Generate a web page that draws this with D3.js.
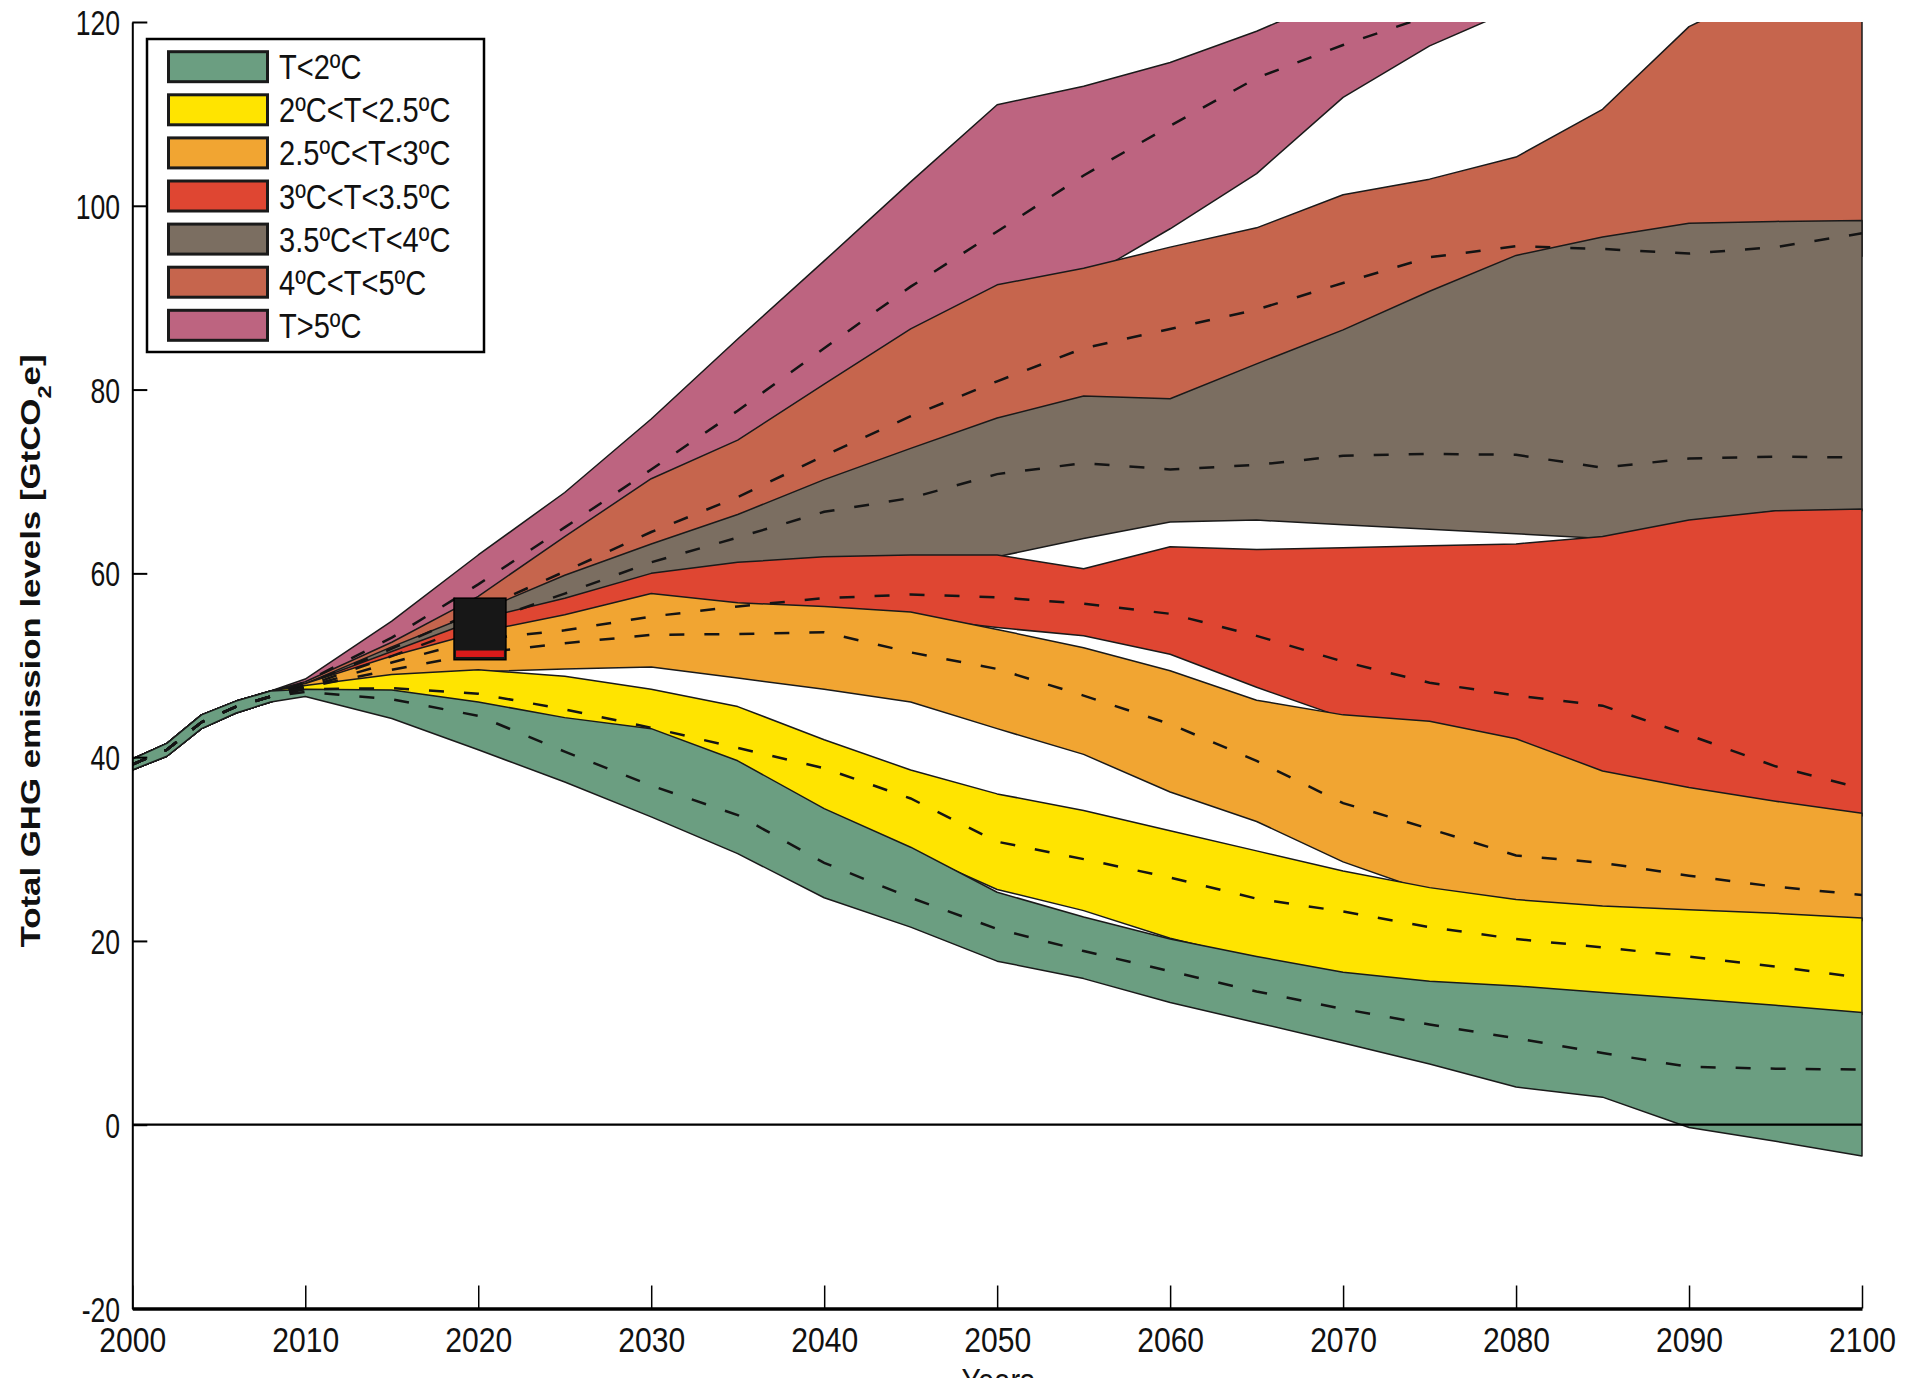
<!DOCTYPE html>
<html>
<head>
<meta charset="utf-8">
<title>Total GHG emission levels</title>
<script src="https://cdn.jsdelivr.net/npm/d3@7"></script>
<style>
  body { margin: 0; background: #ffffff; }
</style>
</head>
<body>
<div id="chart"></div>
<script>
// historical trunk, before the pathways fan out
const trunkYears = [2000, 2002, 2004, 2006, 2008];
const trunkUpper = [39.8, 41.5, 44.6, 46.1, 47.2];
const trunkMedian = [39.2, 40.8, 43.8, 45.5, 46.6];
const trunkLower = [38.6, 40.1, 43.1, 44.8, 46.0];

const years = [2010, 2015, 2020, 2025, 2030, 2035, 2040, 2045, 2050, 2055,
  2060, 2065, 2070, 2075, 2080, 2085, 2090, 2095, 2100];

// T<2ºC
const greenUpper = [47.4, 47.3, 46.0, 44.3, 43.1, 39.6, 34.4, 30.2, 25.3, 22.6, 20.2, 18.3, 16.6, 15.6, 15.1, 14.4, 13.7, 13.0, 12.2];
const greenMedian = [47.1, 46.3, 44.5, 40.6, 36.9, 33.7, 28.5, 24.7, 21.3, 18.9, 16.7, 14.5, 12.6, 10.9, 9.4, 7.8, 6.3, 6.1, 6.0];
const greenLower = [46.6, 44.2, 40.8, 37.3, 33.5, 29.5, 24.7, 21.5, 17.8, 15.9, 13.3, 11.1, 8.9, 6.6, 4.1, 3.0, -0.3, -1.8, -3.4];

// 2ºC<T<2.5ºC
const yellowUpper = [47.8, 49.0, 49.5, 48.8, 47.4, 45.5, 41.9, 38.6, 36.0, 34.2, 32.0, 29.8, 27.6, 25.8, 24.5, 23.8, 23.4, 23.0, 22.5];
const yellowMedian = [47.4, 47.5, 46.9, 45.2, 43.2, 41.0, 38.8, 35.5, 30.8, 28.9, 26.9, 24.6, 23.2, 21.5, 20.2, 19.3, 18.3, 17.2, 16.0];
const yellowLower = [47.0, 46.6, 45.4, 43.8, 42.6, 39.2, 34.0, 29.8, 25.6, 23.3, 20.3, 18.0, 16.3, 15.3, 14.8, 14.1, 13.4, 12.7, 12.0];

// 2.5ºC<T<3ºC
const orangeUpper = [48.0, 51.0, 53.6, 55.5, 57.8, 56.8, 56.4, 55.8, 53.9, 51.9, 49.4, 46.2, 44.6, 43.9, 42.0, 38.5, 36.7, 35.2, 33.9];
const orangeMedian = [47.6, 49.5, 51.3, 52.4, 53.3, 53.4, 53.6, 51.4, 49.6, 46.7, 43.6, 39.6, 35.0, 32.2, 29.3, 28.5, 27.1, 25.9, 25.0];
const orangeLower = [47.3, 48.6, 49.3, 49.6, 49.8, 48.6, 47.4, 46.0, 43.1, 40.3, 36.2, 33.0, 28.6, 25.3, 24.0, 23.4, 23.0, 22.6, 22.2];

// 3ºC<T<3.5ºC
const redUpper = [48.0, 51.5, 55.0, 57.3, 60.0, 61.2, 61.8, 62.0, 62.0, 60.5, 62.9, 62.6, 62.8, 63.0, 63.2, 64.0, 65.8, 66.8, 67.0];
const redMedian = [47.6, 50.3, 52.8, 53.8, 55.3, 56.4, 57.3, 57.7, 57.4, 56.7, 55.6, 53.2, 50.4, 48.1, 46.7, 45.6, 42.4, 39.0, 36.6];
const redLower = [47.6, 50.0, 52.5, 54.0, 55.0, 55.8, 55.6, 55.2, 54.1, 53.2, 51.2, 47.6, 44.3, 43.6, 41.7, 38.2, 36.4, 34.9, 33.6];

// 3.5ºC<T<4ºC
const greyUpper = [48.0, 52.0, 55.8, 59.8, 63.2, 66.4, 70.2, 73.6, 76.9, 79.3, 79.0, 82.8, 86.5, 90.7, 94.6, 96.6, 98.1, 98.3, 98.4];
const greyMedian = [47.7, 51.0, 54.5, 57.8, 61.2, 63.9, 66.7, 68.2, 70.8, 72.0, 71.3, 71.8, 72.8, 73.0, 72.9, 71.5, 72.5, 72.7, 72.6];
const greyLower = [47.6, 50.5, 53.5, 56.5, 59.5, 61.0, 61.6, 61.8, 61.8, 63.8, 65.6, 65.8, 65.3, 64.8, 64.3, 63.8, 65.6, 66.8, 66.8];

// 4ºC<T<5ºC (top runs off the chart after 2090)
const brickUpper = [48.2, 52.5, 57.5, 64.0, 70.3, 74.5, 80.6, 86.6, 91.4, 93.2, 95.5, 97.6, 101.2, 102.9, 105.3, 110.5, 119.5, 124.0, 127.0];
const brickMedian = [47.9, 51.8, 56.0, 60.2, 64.5, 68.3, 72.8, 77.1, 80.9, 84.5, 86.6, 88.7, 91.6, 94.4, 95.6, 95.3, 94.8, 95.5, 97.0];
const brickLower = [47.8, 51.0, 54.5, 58.0, 61.0, 64.0, 67.5, 70.5, 73.5, 75.5, 76.0, 79.5, 83.0, 87.5, 91.0, 93.0, 94.0, 94.0, 94.5];

// T>5ºC (leaves the chart around 2080)
const pinkUpper = [48.5, 54.8, 62.0, 68.8, 76.8, 85.5, 94.0, 102.6, 111.0, 113.0, 115.6, 119.0, 123.0, 127.0, 131.0, null, null, null, null];
const pinkMedian = [48.2, 53.0, 58.8, 65.0, 71.3, 77.7, 84.5, 91.2, 97.2, 103.3, 108.7, 113.9, 117.5, 120.7, 124.0, null, null, null, null];
const pinkLower = [48.0, 52.0, 56.5, 62.0, 68.0, 72.5, 78.0, 84.0, 89.0, 92.0, 97.5, 103.5, 111.8, 117.4, 121.5, null, null, null, null];

const bandNames = [`T<2ºC`, `2ºC<T<2.5ºC`, `2.5ºC<T<3ºC`, `3ºC<T<3.5ºC`, `3.5ºC<T<4ºC`, `4ºC<T<5ºC`, `T>5ºC`];

// 2020 marker (black box with red strip)
const markerYears = [2018.6, 2021.6];
const markerRange = [50.6, 57.3];
const markerRed = [50.9, 51.6];

const xTicks = [2000, 2010, 2020, 2030, 2040, 2050, 2060, 2070, 2080, 2090, 2100];
const yTicks = [-20, 0, 20, 40, 60, 80, 100, 120];

const options = {
  width: 1921,
  height: 1378,
  plot: { left: 132.3, right: 1862, top: 22, bottom: 1308.5 },
  font: `"Liberation Sans", Arial, Helvetica, sans-serif`,
  colors: [`#6b9e81`, `#ffe400`, `#f1a532`, `#df4632`, `#7b6e61`, `#c6654d`, `#bd6480`],
  outline: `#1a1a1a`,
  dash: `15,20`,
  legend: { x: 147, y: 39, w: 337, h: 313, rowY: 66.7, rowStep: 43.1 },
};

function renderChart(domId) {
  const id = domId.replace(/^#/i, ``);
  const { width, height, plot } = options;

  const bands = [
    { upper: greenUpper, median: greenMedian, lower: greenLower },
    { upper: yellowUpper, median: yellowMedian, lower: yellowLower },
    { upper: orangeUpper, median: orangeMedian, lower: orangeLower },
    { upper: redUpper, median: redMedian, lower: redLower },
    { upper: greyUpper, median: greyMedian, lower: greyLower },
    { upper: brickUpper, median: brickMedian, lower: brickLower },
    { upper: pinkUpper, median: pinkMedian, lower: pinkLower },
  ].map((b, i) => {
    const points = trunkYears.map((yr, j) => ({
      year: yr, upper: trunkUpper[j], median: trunkMedian[j], lower: trunkLower[j],
    }));
    years.forEach((yr, j) => points.push({
      year: yr, upper: b.upper[j], median: b.median[j], lower: b.lower[j],
    }));
    return { name: bandNames[i], color: options.colors[i], points };
  });

  const x = d3.scaleLinear().domain([2000, 2100]).range([plot.left, plot.right]);
  const y = d3.scaleLinear().domain([-20, 120]).range([plot.bottom, plot.top]);

  d3.select(`#${id}`).selectAll(`*`).remove();

  const svg = d3
    .select(`#${id}`)
    .append(`svg`)
    .attr(`width`, width)
    .attr(`height`, height)
    .style(`font-family`, options.font);

  svg.append(`defs`)
    .append(`clipPath`)
    .attr(`id`, `plot-clip`)
    .append(`rect`)
    .attr(`x`, plot.left)
    .attr(`y`, plot.top)
    .attr(`width`, plot.right - plot.left + 2)
    .attr(`height`, plot.bottom - plot.top);

  const area = d3.area()
    .defined((d) => d.upper != null)
    .x((d) => x(d.year))
    .y0((d) => y(d.lower))
    .y1((d) => y(d.upper));

  const line = d3.line()
    .defined((d) => d.median != null)
    .x((d) => x(d.year))
    .y((d) => y(d.median));

  const plotG = svg.append(`g`).attr(`clip-path`, `url(#plot-clip)`);

  // hottest band at the bottom, coolest on top
  plotG.selectAll(`path.band`)
    .data(bands.slice().reverse())
    .enter()
    .append(`path`)
    .attr(`class`, `band`)
    .attr(`d`, (d) => area(d.points))
    .attr(`fill`, (d) => d.color)
    .attr(`stroke`, options.outline)
    .attr(`stroke-width`, 1.5)
    .attr(`stroke-linejoin`, `round`);

  plotG.selectAll(`path.median`)
    .data(bands.slice().reverse())
    .enter()
    .append(`path`)
    .attr(`class`, `median`)
    .attr(`d`, (d) => line(d.points))
    .attr(`fill`, `none`)
    .attr(`stroke`, `#141414`)
    .attr(`stroke-width`, 2.5)
    .attr(`stroke-dasharray`, options.dash);

  // zero line
  svg.append(`line`)
    .attr(`x1`, x(2000))
    .attr(`x2`, x(2100))
    .attr(`y1`, y(0))
    .attr(`y2`, y(0))
    .attr(`stroke`, `#000`)
    .attr(`stroke-width`, 2.2);

  // 2020 marker
  svg.append(`rect`)
    .attr(`x`, x(markerYears[0]))
    .attr(`y`, y(markerRange[1]))
    .attr(`width`, x(markerYears[1]) - x(markerYears[0]))
    .attr(`height`, y(markerRange[0]) - y(markerRange[1]))
    .attr(`fill`, `#171717`)
    .attr(`stroke`, `#000`)
    .attr(`stroke-width`, 1.5);
  svg.append(`rect`)
    .attr(`x`, x(markerYears[0]) + 2)
    .attr(`y`, y(markerRed[1]))
    .attr(`width`, x(markerYears[1]) - x(markerYears[0]) - 4)
    .attr(`height`, y(markerRed[0]) - y(markerRed[1]))
    .attr(`fill`, `#d81a1a`);

  // axes
  const xAxis = svg.append(`g`)
    .attr(`transform`, `translate(0, ${plot.bottom})`)
    .call(d3.axisBottom(x).tickValues(xTicks).tickSize(-23).tickSizeOuter(0).tickFormat((d) => `${d}`));
  xAxis.select(`.domain`).attr(`stroke-width`, 3.5);
  xAxis.selectAll(`.tick line`).attr(`stroke-width`, 1.5);
  xAxis.selectAll(`.tick text`)
    .attr(`y`, 18.6)
    .attr(`transform`, `scale(0.86,1)`)
    .attr(`fill`, `#111`)
    .style(`font-size`, `35px`)
    .style(`font-family`, options.font);

  const yAxis = svg.append(`g`)
    .attr(`transform`, `translate(${plot.left}, 0)`)
    .call(d3.axisLeft(y).tickValues(yTicks).tickSize(-15).tickSizeOuter(0).tickFormat((d) => `${d}`));
  yAxis.select(`.domain`).attr(`stroke-width`, 2);
  yAxis.selectAll(`.tick line`).attr(`stroke-width`, 2);
  yAxis.selectAll(`.tick text`)
    .attr(`x`, -16)
    .attr(`dy`, `0.36em`)
    .attr(`transform`, `scale(0.76,1)`)
    .attr(`fill`, `#111`)
    .style(`font-size`, `35px`)
    .style(`font-family`, options.font);

  // axis titles
  const yTitle = svg.append(`text`)
    .attr(`transform`, `translate(40, 651) rotate(-90) scale(1.244,1)`)
    .attr(`text-anchor`, `middle`)
    .attr(`fill`, `#111`)
    .style(`font-size`, `28px`)
    .style(`font-weight`, `bold`);
  yTitle.append(`tspan`).text(`Total GHG emission levels [GtCO`);
  yTitle.append(`tspan`).attr(`baseline-shift`, `sub`).style(`font-size`, `19px`).text(`2`);
  yTitle.append(`tspan`).text(`e]`);

  // x title sits at the bottom edge, partly cut off as in the source figure
  svg.append(`text`)
    .attr(`transform`, `translate(998, 1393) scale(0.83,1)`)
    .attr(`text-anchor`, `middle`)
    .attr(`fill`, `#111`)
    .style(`font-size`, `35px`)
    .text(`Years`);

  // legend
  const lg = options.legend;
  const legend = svg.append(`g`);
  legend.append(`rect`)
    .attr(`x`, lg.x)
    .attr(`y`, lg.y)
    .attr(`width`, lg.w)
    .attr(`height`, lg.h)
    .attr(`fill`, `#fff`)
    .attr(`stroke`, `#000`)
    .attr(`stroke-width`, 2.5);

  const rows = legend.selectAll(`g.row`)
    .data(bands)
    .enter()
    .append(`g`)
    .attr(`class`, `row`)
    .attr(`transform`, (d, i) => `translate(0, ${lg.rowY + i * lg.rowStep})`);
  rows.append(`rect`)
    .attr(`x`, 168.5)
    .attr(`y`, -15)
    .attr(`width`, 99)
    .attr(`height`, 30)
    .attr(`fill`, (d) => d.color)
    .attr(`stroke`, `#1a1a1a`)
    .attr(`stroke-width`, 3);
  rows.append(`text`)
    .attr(`transform`, `translate(279, 12.5) scale(0.83,1)`)
    .attr(`fill`, `#111`)
    .style(`font-size`, `35px`)
    .text((d) => d.name);

  console.log(`renderChart(${domId}) bands:`, bands.length);
}

renderChart(`#chart`);
</script>
</body>
</html>
